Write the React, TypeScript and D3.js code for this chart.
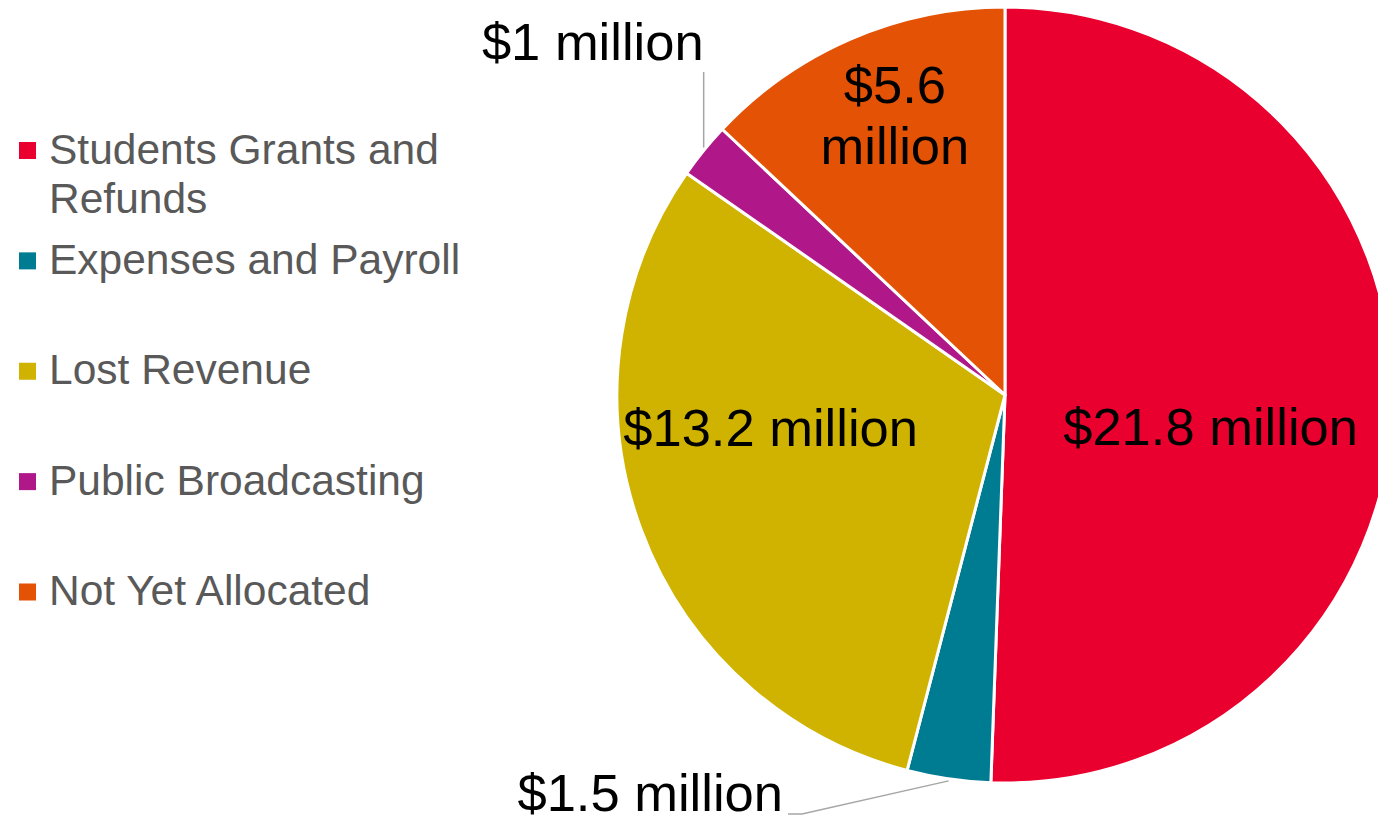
import React from "react";
import * as d3 from "d3";

const categories = [
  "Students Grants and Refunds",
  "Expenses and Payroll",
  "Lost Revenue",
  "Public Broadcasting",
  "Not Yet Allocated",
];
const values = [21.8, 1.5, 13.2, 1, 5.6];
const valueLabels = ["$21.8 million", "$1.5 million", "$13.2 million", "$1 million", "$5.6 million"];
const colors = ["#EA002E", "#007C92", "#D0B300", "#B0188A", "#E35205"];
const legendLines = [["Students Grants and", "Refunds"], ["Expenses and Payroll"], ["Lost Revenue"], ["Public Broadcasting"], ["Not Yet Allocated"]];

const W = 1378;
const H = 819;
const cx = 1005;
const cy = 395;
const R = 388;
const FONT = "'Liberation Sans', Arial, Helvetica, sans-serif";

export default function App() {
  const pie = d3.pie<number>().sort(null).startAngle(0).endAngle(2 * Math.PI);
  const arcs = pie(values);
  const arc = d3.arc<d3.PieArcDatum<number>>().innerRadius(0).outerRadius(R);
  const edge = (d: d3.PieArcDatum<number>) => {
    const a = (d.startAngle + d.endAngle) / 2;
    return [R * Math.sin(a), -R * Math.cos(a)];
  };
  const centroidAt = (d: d3.PieArcDatum<number>, f: number) => {
    const a = (d.startAngle + d.endAngle) / 2;
    return [f * R * Math.sin(a), -f * R * Math.cos(a)];
  };

  const legendY = d3.scaleLinear().domain([0, 4]).range([150.5, 592]);

  const redPos = centroidAt(arcs[0], 0.53);
  const olivePos = centroidAt(arcs[2], 0.6);
  const orangePos = centroidAt(arcs[4], 0.78);
  const purpleEdge = edge(arcs[3]);
  const tealEdge = edge(arcs[1]);

  return (
    <svg width={W} height={H} style={{ position: "absolute", left: 0, top: 0, background: "#fff" }}>
      <g transform={`translate(${cx},${cy})`}>
        {arcs.map((d, i) => (
          <path key={i} d={arc(d) || ""} fill={colors[i]} stroke="#fff" strokeWidth={3} strokeLinejoin="round" />
        ))}
        <polyline
          points={`${purpleEdge[0]},${purpleEdge[1] - 3} ${purpleEdge[0]},${72 - cy}`}
          fill="none"
          stroke="#A6A6A6"
          strokeWidth={1.5}
        />
        <polyline
          points={`${tealEdge[0]},${tealEdge[1] + 2} ${802 - cx},${814 - cy} ${788 - cx},${814 - cy}`}
          fill="none"
          stroke="#A6A6A6"
          strokeWidth={1.5}
        />
        <g fontFamily={FONT} fontSize={52.5} fill="#000">
          <text x={redPos[0]} y={redPos[1] + 28} dy="0.35em" textAnchor="middle">{valueLabels[0]}</text>
          <text x={olivePos[0] - 16} y={olivePos[1] - 48} dy="0.35em" textAnchor="middle">{valueLabels[2]}</text>
          <text x={orangePos[0] + 10} y={orangePos[1] - 2} textAnchor="middle">
            <tspan x={orangePos[0] + 10} dy="-0.23em">{valueLabels[4].split(" ")[0]}</tspan>
            <tspan x={orangePos[0] + 10} dy="1.15em">{valueLabels[4].split(" ")[1]}</tspan>
          </text>
          <text x={purpleEdge[0]} y={60 - cy} textAnchor="end">{valueLabels[3]}</text>
          <text x={783 - cx} y={811 - cy} textAnchor="end">{valueLabels[1]}</text>
        </g>
      </g>
      <g fontFamily={FONT} fontSize={42.5} fill="#595959">
        {categories.map((c, i) => {
          const y = legendY(i);
          return (
            <g key={c}>
              <rect x={19} y={y - 8.5} width={17} height={17} fill={colors[i]} />
              <text x={49} y={y + 13}>
                {legendLines[i].map((ln, j) => (
                  <tspan key={j} x={49} dy={j === 0 ? 0 : 49}>{ln}</tspan>
                ))}
              </text>
            </g>
          );
        })}
      </g>
    </svg>
  );
}
